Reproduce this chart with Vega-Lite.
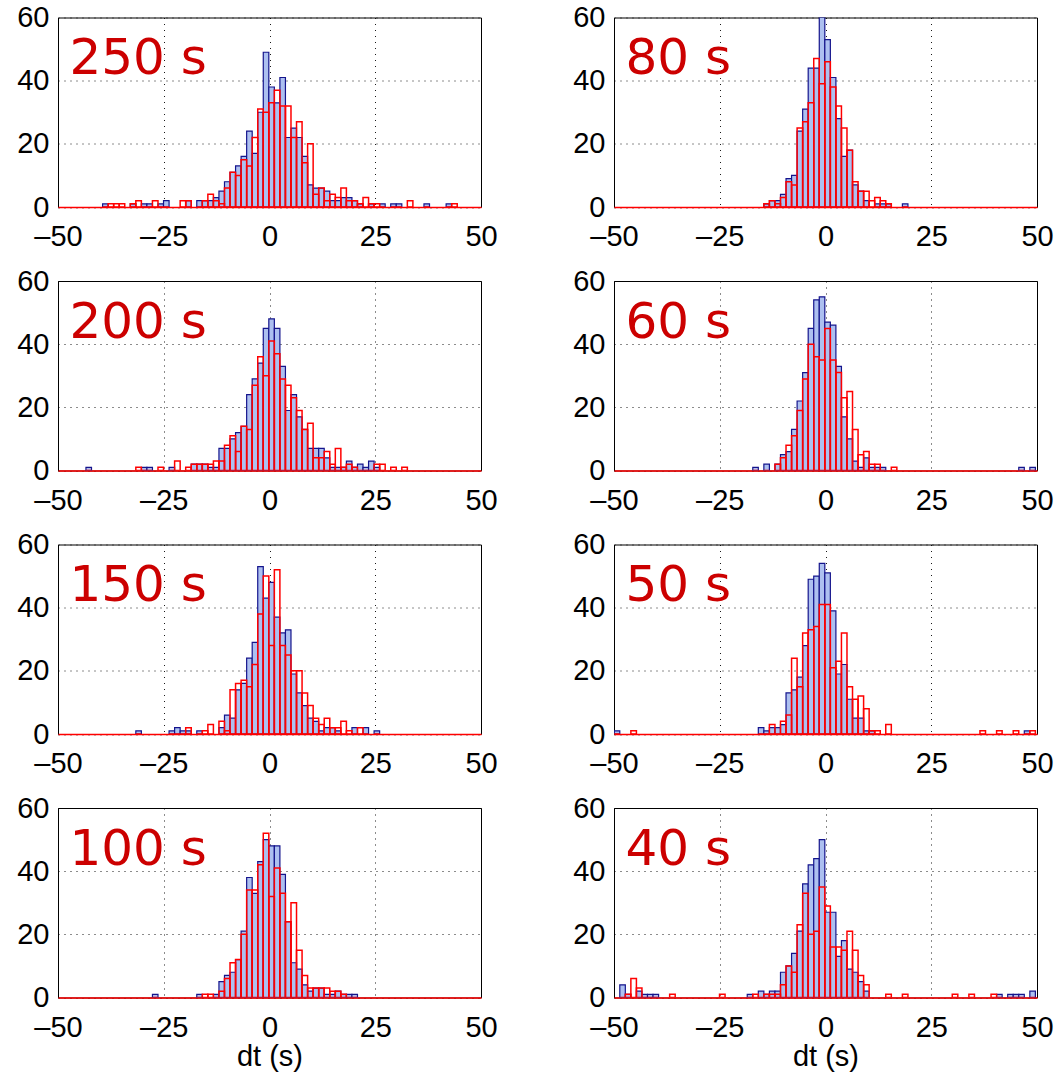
{
"$schema": "https://vega.github.io/schema/vega-lite/v6.json",
"background": "white",
"padding": {"left": 16, "top": 2.5, "right": 3, "bottom": 2},
"config": {
 "view": {"stroke": "#000000", "strokeWidth": 1},
 "axis": {"labelFont": "Liberation Sans", "labelFontSize": 29, "labelColor": "#000000", "titleFont": "Liberation Sans", "titleFontSize": 29, "titleFontWeight": "normal", "titleColor": "#000000", "grid": true, "gridColor": "#000000", "gridDash": [1, 5], "gridOpacity": 0.9, "ticks": false, "domain": false, "labelPadding": 9, "labelFlush": false},
 "axisY": {"encode": {"labels": {"update": {"dy": {"signal": "datum.value==60?4:(datum.value==0?-4:0)"}}}}},
 "axisX": {"domain": true, "domainColor": "#ff0000", "domainWidth": 1.5, "labelPadding": 15.5, "titlePadding": 0}
},
"datasets": {"h": [
{"p":"250 s","x":-39.58,"b":1,"r":0},{"p":"250 s","x":-38.27,"b":0,"r":1},{"p":"250 s","x":-36.96,"b":0,"r":1},{"p":"250 s","x":-35.65,"b":0,"r":1},{"p":"250 s","x":-33.03,"b":1,"r":1},{"p":"250 s","x":-31.72,"b":0,"r":2},{"p":"250 s","x":-30.41,"b":1,"r":0},{"p":"250 s","x":-29.10,"b":1,"r":0},{"p":"250 s","x":-27.79,"b":0,"r":2},{"p":"250 s","x":-26.48,"b":1,"r":0},{"p":"250 s","x":-25.17,"b":2,"r":0},{"p":"250 s","x":-21.24,"b":0,"r":2},{"p":"250 s","x":-19.93,"b":2,"r":2},{"p":"250 s","x":-17.31,"b":2,"r":0},{"p":"250 s","x":-16.00,"b":2,"r":2},{"p":"250 s","x":-14.69,"b":2,"r":4},{"p":"250 s","x":-13.38,"b":3,"r":2},{"p":"250 s","x":-12.07,"b":5,"r":1},{"p":"250 s","x":-10.76,"b":8,"r":6},{"p":"250 s","x":-9.45,"b":11,"r":11},{"p":"250 s","x":-8.14,"b":13,"r":10},{"p":"250 s","x":-6.83,"b":16,"r":15},{"p":"250 s","x":-5.52,"b":24,"r":13},{"p":"250 s","x":-4.21,"b":17,"r":22},{"p":"250 s","x":-2.90,"b":30,"r":31},{"p":"250 s","x":-1.59,"b":49,"r":30},{"p":"250 s","x":-0.28,"b":38,"r":33},{"p":"250 s","x":1.03,"b":33,"r":37},{"p":"250 s","x":2.34,"b":41,"r":32},{"p":"250 s","x":3.65,"b":22,"r":32},{"p":"250 s","x":4.96,"b":25,"r":22},{"p":"250 s","x":6.27,"b":22,"r":27},{"p":"250 s","x":7.58,"b":16,"r":14},{"p":"250 s","x":8.89,"b":7,"r":20},{"p":"250 s","x":10.20,"b":6,"r":4},{"p":"250 s","x":11.51,"b":6,"r":6},{"p":"250 s","x":12.82,"b":5,"r":2},{"p":"250 s","x":14.13,"b":2,"r":4},{"p":"250 s","x":15.44,"b":2,"r":3},{"p":"250 s","x":16.75,"b":3,"r":6},{"p":"250 s","x":18.06,"b":3,"r":2},{"p":"250 s","x":19.37,"b":2,"r":2},{"p":"250 s","x":20.68,"b":1,"r":1},{"p":"250 s","x":21.99,"b":0,"r":3},{"p":"250 s","x":23.30,"b":1,"r":1},{"p":"250 s","x":24.61,"b":0,"r":1},{"p":"250 s","x":25.92,"b":1,"r":0},{"p":"250 s","x":28.54,"b":1,"r":0},{"p":"250 s","x":29.85,"b":1,"r":0},{"p":"250 s","x":32.47,"b":0,"r":2},{"p":"250 s","x":36.40,"b":1,"r":0},{"p":"250 s","x":41.64,"b":1,"r":0},{"p":"250 s","x":42.95,"b":0,"r":1},
{"p":"80 s","x":-14.69,"b":1,"r":1},{"p":"80 s","x":-13.38,"b":2,"r":2},{"p":"80 s","x":-12.07,"b":2,"r":1},{"p":"80 s","x":-10.76,"b":4,"r":3},{"p":"80 s","x":-9.45,"b":9,"r":8},{"p":"80 s","x":-8.14,"b":10,"r":7},{"p":"80 s","x":-6.83,"b":24,"r":25},{"p":"80 s","x":-5.52,"b":31,"r":27},{"p":"80 s","x":-4.21,"b":44,"r":33},{"p":"80 s","x":-2.90,"b":44,"r":47},{"p":"80 s","x":-1.59,"b":60,"r":39},{"p":"80 s","x":-0.28,"b":53,"r":46},{"p":"80 s","x":1.03,"b":41,"r":38},{"p":"80 s","x":2.34,"b":28,"r":32},{"p":"80 s","x":3.65,"b":16,"r":25},{"p":"80 s","x":4.96,"b":18,"r":18},{"p":"80 s","x":6.27,"b":7,"r":8},{"p":"80 s","x":7.58,"b":5,"r":5},{"p":"80 s","x":8.89,"b":2,"r":5},{"p":"80 s","x":10.20,"b":0,"r":2},{"p":"80 s","x":11.51,"b":1,"r":3},{"p":"80 s","x":12.82,"b":1,"r":2},{"p":"80 s","x":14.13,"b":1,"r":1},{"p":"80 s","x":18.06,"b":1,"r":0},
{"p":"200 s","x":-43.51,"b":1,"r":0},{"p":"200 s","x":-31.72,"b":0,"r":1},{"p":"200 s","x":-30.41,"b":1,"r":0},{"p":"200 s","x":-29.10,"b":1,"r":0},{"p":"200 s","x":-26.48,"b":0,"r":1},{"p":"200 s","x":-23.86,"b":1,"r":0},{"p":"200 s","x":-22.55,"b":0,"r":3},{"p":"200 s","x":-19.93,"b":0,"r":1},{"p":"200 s","x":-18.62,"b":2,"r":2},{"p":"200 s","x":-17.31,"b":2,"r":2},{"p":"200 s","x":-16.00,"b":2,"r":2},{"p":"200 s","x":-14.69,"b":1,"r":2},{"p":"200 s","x":-13.38,"b":1,"r":3},{"p":"200 s","x":-12.07,"b":7,"r":3},{"p":"200 s","x":-10.76,"b":7,"r":8},{"p":"200 s","x":-9.45,"b":10,"r":11},{"p":"200 s","x":-8.14,"b":12,"r":6},{"p":"200 s","x":-6.83,"b":14,"r":14},{"p":"200 s","x":-5.52,"b":24,"r":13},{"p":"200 s","x":-4.21,"b":29,"r":27},{"p":"200 s","x":-2.90,"b":34,"r":36},{"p":"200 s","x":-1.59,"b":45,"r":30},{"p":"200 s","x":-0.28,"b":48,"r":41},{"p":"200 s","x":1.03,"b":45,"r":37},{"p":"200 s","x":2.34,"b":33,"r":29},{"p":"200 s","x":3.65,"b":19,"r":27},{"p":"200 s","x":4.96,"b":24,"r":23},{"p":"200 s","x":6.27,"b":17,"r":19},{"p":"200 s","x":7.58,"b":13,"r":13},{"p":"200 s","x":8.89,"b":7,"r":15},{"p":"200 s","x":10.20,"b":7,"r":4},{"p":"200 s","x":11.51,"b":7,"r":4},{"p":"200 s","x":12.82,"b":4,"r":6},{"p":"200 s","x":14.13,"b":1,"r":2},{"p":"200 s","x":15.44,"b":1,"r":7},{"p":"200 s","x":16.75,"b":1,"r":1},{"p":"200 s","x":18.06,"b":3,"r":2},{"p":"200 s","x":19.37,"b":1,"r":1},{"p":"200 s","x":20.68,"b":2,"r":0},{"p":"200 s","x":21.99,"b":1,"r":0},{"p":"200 s","x":23.30,"b":3,"r":0},{"p":"200 s","x":24.61,"b":1,"r":2},{"p":"200 s","x":25.92,"b":0,"r":2},{"p":"200 s","x":28.54,"b":0,"r":1},{"p":"200 s","x":31.16,"b":0,"r":1},
{"p":"60 s","x":-17.31,"b":1,"r":0},{"p":"60 s","x":-14.69,"b":2,"r":0},{"p":"60 s","x":-12.07,"b":2,"r":2},{"p":"60 s","x":-10.76,"b":5,"r":4},{"p":"60 s","x":-9.45,"b":6,"r":8},{"p":"60 s","x":-8.14,"b":13,"r":11},{"p":"60 s","x":-6.83,"b":22,"r":19},{"p":"60 s","x":-5.52,"b":31,"r":29},{"p":"60 s","x":-4.21,"b":45,"r":40},{"p":"60 s","x":-2.90,"b":54,"r":36},{"p":"60 s","x":-1.59,"b":55,"r":35},{"p":"60 s","x":-0.28,"b":47,"r":45},{"p":"60 s","x":1.03,"b":46,"r":35},{"p":"60 s","x":2.34,"b":33,"r":31},{"p":"60 s","x":3.65,"b":17,"r":23},{"p":"60 s","x":4.96,"b":10,"r":25},{"p":"60 s","x":6.27,"b":3,"r":13},{"p":"60 s","x":7.58,"b":1,"r":5},{"p":"60 s","x":8.89,"b":4,"r":6},{"p":"60 s","x":10.20,"b":1,"r":2},{"p":"60 s","x":11.51,"b":1,"r":2},{"p":"60 s","x":12.82,"b":1,"r":0},{"p":"60 s","x":15.44,"b":0,"r":1},{"p":"60 s","x":45.57,"b":1,"r":0},{"p":"60 s","x":48.19,"b":1,"r":0},
{"p":"150 s","x":-31.72,"b":1,"r":0},{"p":"150 s","x":-23.86,"b":1,"r":0},{"p":"150 s","x":-22.55,"b":2,"r":0},{"p":"150 s","x":-21.24,"b":1,"r":0},{"p":"150 s","x":-19.93,"b":1,"r":2},{"p":"150 s","x":-17.31,"b":1,"r":0},{"p":"150 s","x":-16.00,"b":0,"r":1},{"p":"150 s","x":-14.69,"b":0,"r":3},{"p":"150 s","x":-12.07,"b":2,"r":4},{"p":"150 s","x":-10.76,"b":6,"r":1},{"p":"150 s","x":-9.45,"b":5,"r":14},{"p":"150 s","x":-8.14,"b":14,"r":16},{"p":"150 s","x":-6.83,"b":16,"r":17},{"p":"150 s","x":-5.52,"b":24,"r":15},{"p":"150 s","x":-4.21,"b":29,"r":22},{"p":"150 s","x":-2.90,"b":53,"r":38},{"p":"150 s","x":-1.59,"b":43,"r":50},{"p":"150 s","x":-0.28,"b":48,"r":28},{"p":"150 s","x":1.03,"b":37,"r":52},{"p":"150 s","x":2.34,"b":32,"r":28},{"p":"150 s","x":3.65,"b":33,"r":25},{"p":"150 s","x":4.96,"b":19,"r":20},{"p":"150 s","x":6.27,"b":13,"r":20},{"p":"150 s","x":7.58,"b":9,"r":13},{"p":"150 s","x":8.89,"b":5,"r":9},{"p":"150 s","x":10.20,"b":4,"r":5},{"p":"150 s","x":11.51,"b":1,"r":3},{"p":"150 s","x":12.82,"b":2,"r":5},{"p":"150 s","x":14.13,"b":2,"r":2},{"p":"150 s","x":15.44,"b":1,"r":2},{"p":"150 s","x":16.75,"b":0,"r":4},{"p":"150 s","x":18.06,"b":0,"r":1},{"p":"150 s","x":19.37,"b":2,"r":0},{"p":"150 s","x":20.68,"b":0,"r":2},{"p":"150 s","x":21.99,"b":2,"r":0},{"p":"150 s","x":24.61,"b":1,"r":0},
{"p":"50 s","x":-50.06,"b":1,"r":0},{"p":"50 s","x":-46.13,"b":0,"r":1},{"p":"50 s","x":-16.00,"b":2,"r":0},{"p":"50 s","x":-14.69,"b":1,"r":0},{"p":"50 s","x":-13.38,"b":2,"r":3},{"p":"50 s","x":-12.07,"b":2,"r":0},{"p":"50 s","x":-10.76,"b":3,"r":4},{"p":"50 s","x":-9.45,"b":13,"r":6},{"p":"50 s","x":-8.14,"b":14,"r":24},{"p":"50 s","x":-6.83,"b":18,"r":15},{"p":"50 s","x":-5.52,"b":28,"r":32},{"p":"50 s","x":-4.21,"b":49,"r":33},{"p":"50 s","x":-2.90,"b":50,"r":34},{"p":"50 s","x":-1.59,"b":54,"r":41},{"p":"50 s","x":-0.28,"b":51,"r":41},{"p":"50 s","x":1.03,"b":39,"r":21},{"p":"50 s","x":2.34,"b":19,"r":23},{"p":"50 s","x":3.65,"b":22,"r":32},{"p":"50 s","x":4.96,"b":11,"r":15},{"p":"50 s","x":6.27,"b":5,"r":11},{"p":"50 s","x":7.58,"b":5,"r":12},{"p":"50 s","x":8.89,"b":1,"r":8},{"p":"50 s","x":10.20,"b":1,"r":1},{"p":"50 s","x":11.51,"b":0,"r":1},{"p":"50 s","x":14.13,"b":0,"r":3},{"p":"50 s","x":36.40,"b":0,"r":1},{"p":"50 s","x":40.33,"b":0,"r":1},{"p":"50 s","x":44.26,"b":0,"r":1},{"p":"50 s","x":46.88,"b":1,"r":0},{"p":"50 s","x":48.19,"b":0,"r":1},
{"p":"100 s","x":-27.79,"b":1,"r":0},{"p":"100 s","x":-17.31,"b":1,"r":0},{"p":"100 s","x":-16.00,"b":0,"r":1},{"p":"100 s","x":-14.69,"b":0,"r":1},{"p":"100 s","x":-13.38,"b":1,"r":0},{"p":"100 s","x":-12.07,"b":5,"r":2},{"p":"100 s","x":-10.76,"b":7,"r":6},{"p":"100 s","x":-9.45,"b":8,"r":11},{"p":"100 s","x":-8.14,"b":12,"r":12},{"p":"100 s","x":-6.83,"b":21,"r":20},{"p":"100 s","x":-5.52,"b":38,"r":34},{"p":"100 s","x":-4.21,"b":33,"r":34},{"p":"100 s","x":-2.90,"b":43,"r":42},{"p":"100 s","x":-1.59,"b":50,"r":52},{"p":"100 s","x":-0.28,"b":48,"r":32},{"p":"100 s","x":1.03,"b":48,"r":41},{"p":"100 s","x":2.34,"b":39,"r":33},{"p":"100 s","x":3.65,"b":24,"r":24},{"p":"100 s","x":4.96,"b":11,"r":30},{"p":"100 s","x":6.27,"b":9,"r":15},{"p":"100 s","x":7.58,"b":4,"r":7},{"p":"100 s","x":8.89,"b":2,"r":3},{"p":"100 s","x":10.20,"b":3,"r":3},{"p":"100 s","x":11.51,"b":3,"r":3},{"p":"100 s","x":12.82,"b":1,"r":3},{"p":"100 s","x":14.13,"b":1,"r":2},{"p":"100 s","x":15.44,"b":2,"r":2},{"p":"100 s","x":16.75,"b":1,"r":1},{"p":"100 s","x":18.06,"b":1,"r":0},{"p":"100 s","x":19.37,"b":1,"r":0},
{"p":"40 s","x":-48.75,"b":4,"r":0},{"p":"40 s","x":-47.44,"b":1,"r":1},{"p":"40 s","x":-46.13,"b":0,"r":6},{"p":"40 s","x":-44.82,"b":2,"r":3},{"p":"40 s","x":-43.51,"b":1,"r":0},{"p":"40 s","x":-42.20,"b":1,"r":0},{"p":"40 s","x":-40.89,"b":1,"r":0},{"p":"40 s","x":-36.96,"b":0,"r":1},{"p":"40 s","x":-25.17,"b":0,"r":1},{"p":"40 s","x":-18.62,"b":1,"r":0},{"p":"40 s","x":-17.31,"b":0,"r":1},{"p":"40 s","x":-16.00,"b":2,"r":0},{"p":"40 s","x":-14.69,"b":1,"r":1},{"p":"40 s","x":-13.38,"b":2,"r":1},{"p":"40 s","x":-12.07,"b":2,"r":1},{"p":"40 s","x":-10.76,"b":8,"r":4},{"p":"40 s","x":-9.45,"b":10,"r":10},{"p":"40 s","x":-8.14,"b":14,"r":8},{"p":"40 s","x":-6.83,"b":21,"r":23},{"p":"40 s","x":-5.52,"b":36,"r":33},{"p":"40 s","x":-4.21,"b":42,"r":20},{"p":"40 s","x":-2.90,"b":44,"r":21},{"p":"40 s","x":-1.59,"b":50,"r":35},{"p":"40 s","x":-0.28,"b":27,"r":29},{"p":"40 s","x":1.03,"b":27,"r":16},{"p":"40 s","x":2.34,"b":13,"r":16},{"p":"40 s","x":3.65,"b":18,"r":15},{"p":"40 s","x":4.96,"b":9,"r":21},{"p":"40 s","x":6.27,"b":8,"r":15},{"p":"40 s","x":7.58,"b":5,"r":7},{"p":"40 s","x":8.89,"b":2,"r":4},{"p":"40 s","x":14.13,"b":0,"r":1},{"p":"40 s","x":18.06,"b":0,"r":1},{"p":"40 s","x":29.85,"b":0,"r":1},{"p":"40 s","x":33.78,"b":0,"r":1},{"p":"40 s","x":39.02,"b":0,"r":1},{"p":"40 s","x":40.33,"b":1,"r":0},{"p":"40 s","x":42.95,"b":1,"r":0},{"p":"40 s","x":44.26,"b":1,"r":0},{"p":"40 s","x":45.57,"b":1,"r":0},{"p":"40 s","x":48.19,"b":2,"r":0}
]},
"columns": 2,
"spacing": {"row": 73.5, "column": 133},
"bounds": "flush",
"concat": [
{"width":423,"height":189.5,"layer":[
 {"data":{"name":"h"},"transform":[{"filter":"datum.p=='250 s' && datum.b>0"}],"mark":{"type":"bar","binSpacing":0,"clip":true,"fill":"#adc0f0","stroke":"#14148c","strokeWidth":1.2},"encoding":{"x":{"field":"x","type":"quantitative","bin":{"binned":true,"step":1.31},"scale":{"domain":[-50,50]},"axis":{"values":[-50,-25,0,25,50],"title":null,"labelExpr":"datum.value<0?'–'+abs(datum.value):datum.label","encode":{"labels":{"update":{"dx":{"signal":"datum.value<0?-9:0"}}}}}},"y":{"field":"b","type":"quantitative","scale":{"domain":[0,60]},"axis":{"values":[0,20,40,60],"title":null}}}},
 {"data":{"name":"h"},"transform":[{"filter":"datum.p=='250 s'"}],"mark":{"type":"bar","binSpacing":0,"clip":true,"filled":false,"stroke":"#ff0000","strokeWidth":1.5},"encoding":{"x":{"field":"x","type":"quantitative","bin":{"binned":true,"step":1.31}},"y":{"field":"r","type":"quantitative"}}},
 {"data":{"values":[{"t":"250 s"}]},"mark":{"type":"text","align":"left","baseline":"alphabetic","fontSize":50,"font":"DejaVu Sans","color":"#cc0000"},"encoding":{"x":{"datum":-47.3},"y":{"datum":42},"text":{"field":"t"}}}
]},
{"width":423,"height":189.5,"layer":[
 {"data":{"name":"h"},"transform":[{"filter":"datum.p=='80 s' && datum.b>0"}],"mark":{"type":"bar","binSpacing":0,"clip":true,"fill":"#adc0f0","stroke":"#14148c","strokeWidth":1.2},"encoding":{"x":{"field":"x","type":"quantitative","bin":{"binned":true,"step":1.31},"scale":{"domain":[-50,50]},"axis":{"values":[-50,-25,0,25,50],"title":null,"labelExpr":"datum.value<0?'–'+abs(datum.value):datum.label","encode":{"labels":{"update":{"dx":{"signal":"datum.value<0?-9:0"}}}}}},"y":{"field":"b","type":"quantitative","scale":{"domain":[0,60]},"axis":{"values":[0,20,40,60],"title":null}}}},
 {"data":{"name":"h"},"transform":[{"filter":"datum.p=='80 s'"}],"mark":{"type":"bar","binSpacing":0,"clip":true,"filled":false,"stroke":"#ff0000","strokeWidth":1.5},"encoding":{"x":{"field":"x","type":"quantitative","bin":{"binned":true,"step":1.31}},"y":{"field":"r","type":"quantitative"}}},
 {"data":{"values":[{"t":"80 s"}]},"mark":{"type":"text","align":"left","baseline":"alphabetic","fontSize":50,"font":"DejaVu Sans","color":"#cc0000"},"encoding":{"x":{"datum":-47.3},"y":{"datum":42},"text":{"field":"t"}}}
]},
{"width":423,"height":189.5,"layer":[
 {"data":{"name":"h"},"transform":[{"filter":"datum.p=='200 s' && datum.b>0"}],"mark":{"type":"bar","binSpacing":0,"clip":true,"fill":"#adc0f0","stroke":"#14148c","strokeWidth":1.2},"encoding":{"x":{"field":"x","type":"quantitative","bin":{"binned":true,"step":1.31},"scale":{"domain":[-50,50]},"axis":{"values":[-50,-25,0,25,50],"title":null,"labelExpr":"datum.value<0?'–'+abs(datum.value):datum.label","encode":{"labels":{"update":{"dx":{"signal":"datum.value<0?-9:0"}}}}}},"y":{"field":"b","type":"quantitative","scale":{"domain":[0,60]},"axis":{"values":[0,20,40,60],"title":null}}}},
 {"data":{"name":"h"},"transform":[{"filter":"datum.p=='200 s'"}],"mark":{"type":"bar","binSpacing":0,"clip":true,"filled":false,"stroke":"#ff0000","strokeWidth":1.5},"encoding":{"x":{"field":"x","type":"quantitative","bin":{"binned":true,"step":1.31}},"y":{"field":"r","type":"quantitative"}}},
 {"data":{"values":[{"t":"200 s"}]},"mark":{"type":"text","align":"left","baseline":"alphabetic","fontSize":50,"font":"DejaVu Sans","color":"#cc0000"},"encoding":{"x":{"datum":-47.3},"y":{"datum":42},"text":{"field":"t"}}}
]},
{"width":423,"height":189.5,"layer":[
 {"data":{"name":"h"},"transform":[{"filter":"datum.p=='60 s' && datum.b>0"}],"mark":{"type":"bar","binSpacing":0,"clip":true,"fill":"#adc0f0","stroke":"#14148c","strokeWidth":1.2},"encoding":{"x":{"field":"x","type":"quantitative","bin":{"binned":true,"step":1.31},"scale":{"domain":[-50,50]},"axis":{"values":[-50,-25,0,25,50],"title":null,"labelExpr":"datum.value<0?'–'+abs(datum.value):datum.label","encode":{"labels":{"update":{"dx":{"signal":"datum.value<0?-9:0"}}}}}},"y":{"field":"b","type":"quantitative","scale":{"domain":[0,60]},"axis":{"values":[0,20,40,60],"title":null}}}},
 {"data":{"name":"h"},"transform":[{"filter":"datum.p=='60 s'"}],"mark":{"type":"bar","binSpacing":0,"clip":true,"filled":false,"stroke":"#ff0000","strokeWidth":1.5},"encoding":{"x":{"field":"x","type":"quantitative","bin":{"binned":true,"step":1.31}},"y":{"field":"r","type":"quantitative"}}},
 {"data":{"values":[{"t":"60 s"}]},"mark":{"type":"text","align":"left","baseline":"alphabetic","fontSize":50,"font":"DejaVu Sans","color":"#cc0000"},"encoding":{"x":{"datum":-47.3},"y":{"datum":42},"text":{"field":"t"}}}
]},
{"width":423,"height":189.5,"layer":[
 {"data":{"name":"h"},"transform":[{"filter":"datum.p=='150 s' && datum.b>0"}],"mark":{"type":"bar","binSpacing":0,"clip":true,"fill":"#adc0f0","stroke":"#14148c","strokeWidth":1.2},"encoding":{"x":{"field":"x","type":"quantitative","bin":{"binned":true,"step":1.31},"scale":{"domain":[-50,50]},"axis":{"values":[-50,-25,0,25,50],"title":null,"labelExpr":"datum.value<0?'–'+abs(datum.value):datum.label","encode":{"labels":{"update":{"dx":{"signal":"datum.value<0?-9:0"}}}}}},"y":{"field":"b","type":"quantitative","scale":{"domain":[0,60]},"axis":{"values":[0,20,40,60],"title":null}}}},
 {"data":{"name":"h"},"transform":[{"filter":"datum.p=='150 s'"}],"mark":{"type":"bar","binSpacing":0,"clip":true,"filled":false,"stroke":"#ff0000","strokeWidth":1.5},"encoding":{"x":{"field":"x","type":"quantitative","bin":{"binned":true,"step":1.31}},"y":{"field":"r","type":"quantitative"}}},
 {"data":{"values":[{"t":"150 s"}]},"mark":{"type":"text","align":"left","baseline":"alphabetic","fontSize":50,"font":"DejaVu Sans","color":"#cc0000"},"encoding":{"x":{"datum":-47.3},"y":{"datum":42},"text":{"field":"t"}}}
]},
{"width":423,"height":189.5,"layer":[
 {"data":{"name":"h"},"transform":[{"filter":"datum.p=='50 s' && datum.b>0"}],"mark":{"type":"bar","binSpacing":0,"clip":true,"fill":"#adc0f0","stroke":"#14148c","strokeWidth":1.2},"encoding":{"x":{"field":"x","type":"quantitative","bin":{"binned":true,"step":1.31},"scale":{"domain":[-50,50]},"axis":{"values":[-50,-25,0,25,50],"title":null,"labelExpr":"datum.value<0?'–'+abs(datum.value):datum.label","encode":{"labels":{"update":{"dx":{"signal":"datum.value<0?-9:0"}}}}}},"y":{"field":"b","type":"quantitative","scale":{"domain":[0,60]},"axis":{"values":[0,20,40,60],"title":null}}}},
 {"data":{"name":"h"},"transform":[{"filter":"datum.p=='50 s'"}],"mark":{"type":"bar","binSpacing":0,"clip":true,"filled":false,"stroke":"#ff0000","strokeWidth":1.5},"encoding":{"x":{"field":"x","type":"quantitative","bin":{"binned":true,"step":1.31}},"y":{"field":"r","type":"quantitative"}}},
 {"data":{"values":[{"t":"50 s"}]},"mark":{"type":"text","align":"left","baseline":"alphabetic","fontSize":50,"font":"DejaVu Sans","color":"#cc0000"},"encoding":{"x":{"datum":-47.3},"y":{"datum":42},"text":{"field":"t"}}}
]},
{"width":423,"height":189.5,"layer":[
 {"data":{"name":"h"},"transform":[{"filter":"datum.p=='100 s' && datum.b>0"}],"mark":{"type":"bar","binSpacing":0,"clip":true,"fill":"#adc0f0","stroke":"#14148c","strokeWidth":1.2},"encoding":{"x":{"field":"x","type":"quantitative","bin":{"binned":true,"step":1.31},"scale":{"domain":[-50,50]},"axis":{"values":[-50,-25,0,25,50],"title":"dt (s)","labelExpr":"datum.value<0?'–'+abs(datum.value):datum.label","encode":{"labels":{"update":{"dx":{"signal":"datum.value<0?-9:0"}}}}}},"y":{"field":"b","type":"quantitative","scale":{"domain":[0,60]},"axis":{"values":[0,20,40,60],"title":null}}}},
 {"data":{"name":"h"},"transform":[{"filter":"datum.p=='100 s'"}],"mark":{"type":"bar","binSpacing":0,"clip":true,"filled":false,"stroke":"#ff0000","strokeWidth":1.5},"encoding":{"x":{"field":"x","type":"quantitative","bin":{"binned":true,"step":1.31}},"y":{"field":"r","type":"quantitative"}}},
 {"data":{"values":[{"t":"100 s"}]},"mark":{"type":"text","align":"left","baseline":"alphabetic","fontSize":50,"font":"DejaVu Sans","color":"#cc0000"},"encoding":{"x":{"datum":-47.3},"y":{"datum":42},"text":{"field":"t"}}}
]},
{"width":423,"height":189.5,"layer":[
 {"data":{"name":"h"},"transform":[{"filter":"datum.p=='40 s' && datum.b>0"}],"mark":{"type":"bar","binSpacing":0,"clip":true,"fill":"#adc0f0","stroke":"#14148c","strokeWidth":1.2},"encoding":{"x":{"field":"x","type":"quantitative","bin":{"binned":true,"step":1.31},"scale":{"domain":[-50,50]},"axis":{"values":[-50,-25,0,25,50],"title":"dt (s)","labelExpr":"datum.value<0?'–'+abs(datum.value):datum.label","encode":{"labels":{"update":{"dx":{"signal":"datum.value<0?-9:0"}}}}}},"y":{"field":"b","type":"quantitative","scale":{"domain":[0,60]},"axis":{"values":[0,20,40,60],"title":null}}}},
 {"data":{"name":"h"},"transform":[{"filter":"datum.p=='40 s'"}],"mark":{"type":"bar","binSpacing":0,"clip":true,"filled":false,"stroke":"#ff0000","strokeWidth":1.5},"encoding":{"x":{"field":"x","type":"quantitative","bin":{"binned":true,"step":1.31}},"y":{"field":"r","type":"quantitative"}}},
 {"data":{"values":[{"t":"40 s"}]},"mark":{"type":"text","align":"left","baseline":"alphabetic","fontSize":50,"font":"DejaVu Sans","color":"#cc0000"},"encoding":{"x":{"datum":-47.3},"y":{"datum":42},"text":{"field":"t"}}}
]}
]
}
